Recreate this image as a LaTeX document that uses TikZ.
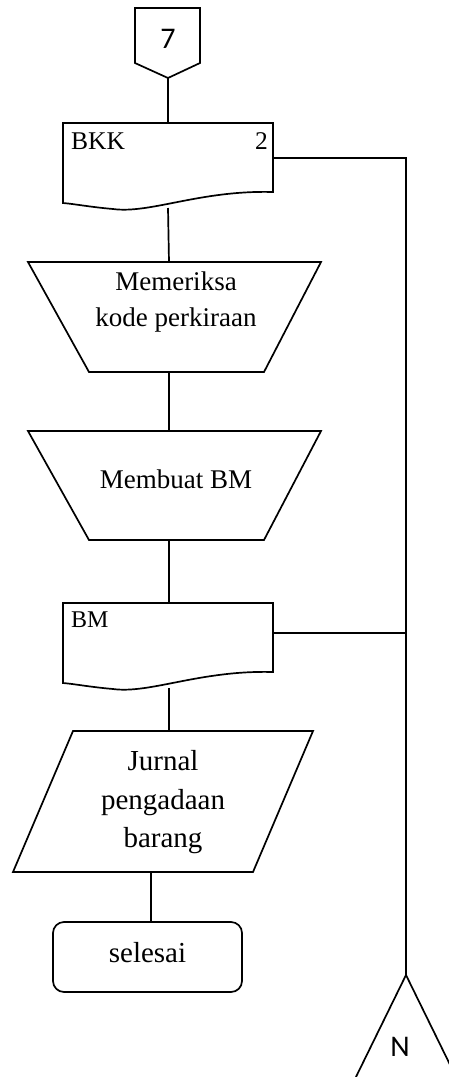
\documentclass[tikz,border=0pt]{standalone}
\usepackage{fontspec}
\setmainfont{Liberation Serif}
\newfontfamily\connfont{Carlito}
\begin{document}
\begin{tikzpicture}[x=1pt,y=-1pt,
  line/.style={line width=1.7pt,line join=miter},
  lbl/.style={inner sep=0pt,anchor=base},
  big/.style={font=\fontsize{27}{32}\selectfont},
  bigger/.style={font=\fontsize{29}{34}\selectfont},
  doclbl/.style={font=\fontsize{25.5}{30}\selectfont},
  conn/.style={font=\connfont\fontsize{30}{34}\selectfont}]
\useasboundingbox (0,0) rectangle (449,1077);
\fill[white] (0,0) rectangle (449,1077);

% off-page connector 7
\draw[line] (135,8) -- (200,8) -- (200,63) -- (168,78) coordinate (c7) -- (135,63) -- cycle;
\node[lbl,conn] (t7) at (168,48) {7};

% document BKK
\draw[line] (63,123) -- (273,123) -- (273,192)
  .. controls (200,190) and (150,214) .. (113,209)
  .. controls (90,207) and (75,204) .. (63,203) -- cycle;
\coordinate (bkkT) at (168,123);
\coordinate (bkkB) at (168,208);
\coordinate (bkkR) at (273,158);
\node[lbl,doclbl,anchor=base west] (bkk) at (71,149) {BKK};
\node[lbl,doclbl,anchor=base east] (bkk2) at (268,149) {2};

% manual operation: Memeriksa kode perkiraan
\draw[line] (28,262) -- (321,262) -- (264,372) -- (89,372) -- cycle;
\coordinate (m1T) at (169,262);
\coordinate (m1B) at (169,372);
\node[lbl,big] (m1a) at (176,290) {Memeriksa};
\node[lbl,big] (m1b) at (176,326) {kode perkiraan};

% manual operation: Membuat BM
\draw[line] (28,431) -- (321,431) -- (264,540) -- (89,540) -- cycle;
\coordinate (m2T) at (169,431);
\coordinate (m2B) at (169,540);
\node[lbl,big] (m2) at (176,488) {Membuat BM};

% document BM
\draw[line] (63,603) -- (273,603) -- (273,672)
  .. controls (200,670) and (150,694) .. (113,689)
  .. controls (90,687) and (75,684) .. (63,683) -- cycle;
\coordinate (bmT) at (169,603);
\coordinate (bmB) at (169,688);
\coordinate (bmR) at (273,633);
\node[lbl,font=\fontsize{24}{28}\selectfont,anchor=base west] (bm) at (71,627) {BM};

% input/output: Jurnal pengadaan barang
\draw[line] (73,731) -- (313,731) -- (253,872) -- (13,872) -- cycle;
\coordinate (jT) at (169,731);
\coordinate (jB) at (151,872);
\node[lbl,bigger] (j1) at (163,770) {Jurnal};
\node[lbl,bigger] (j2) at (163,809) {pengadaan};
\node[lbl,bigger] (j3) at (163,847) {barang};

% terminator
\draw[line,rounded corners=11pt] (53,922) rectangle (242,992);
\coordinate (sT) at (151,922);
\node[lbl,bigger] (sel) at (147.5,962) {selesai};

% off-page connector N (open triangle, base below the page)
\coordinate (nTop) at (406,975);
\draw[line] (353,1083) -- (nTop) -- (459,1083);
\node[lbl,conn] (tN) at (400,1056) {N};

% vertical links
\draw[line] (c7) -- (bkkT);
\draw[line] (bkkB) -- (m1T);
\draw[line] (m1B) -- (m2T);
\draw[line] (m2B) -- (bmT);
\draw[line] (bmB) -- (jT);
\draw[line] (jB) -- (sT);

% right-hand file line
\coordinate (rTop) at (406,158);
\coordinate (rBM) at (406,633);
\draw[line] (bkkR) -- (rTop) -- (nTop);
\draw[line] (bmR) -- (rBM);
\end{tikzpicture}
\end{document}
